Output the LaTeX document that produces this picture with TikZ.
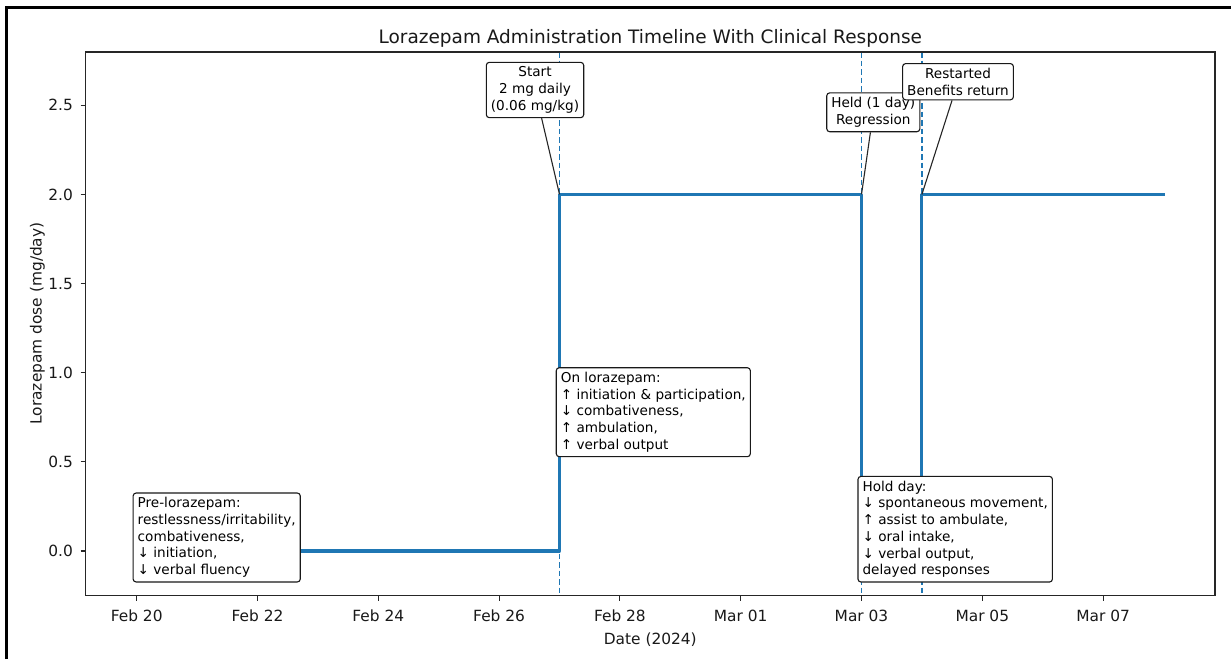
\documentclass[tikz,border=0pt]{standalone}
\usepackage{fontspec}
\setmainfont{DejaVu Sans}
\definecolor{mplblue}{HTML}{1F77B4}
\begin{document}
\begin{tikzpicture}[x=1pt,y=-1pt,
  ann/.style={draw=black!90, line width=1.1pt, fill=white, rounded corners=3pt,
    inner xsep=4.6pt, inner ysep=4.5pt, font=\fontsize{13.6}{16.7}\selectfont},
  spine/.style={draw=black!85, line width=1.1pt},
  ticklbl/.style={font=\fontsize{15.4}{18}\selectfont, text=black!90, inner sep=0pt},
  dose/.style={draw=mplblue, line width=3.1pt, line join=round, line cap=rect},
  vmark/.style={draw=mplblue, line width=1.7pt, dash pattern=on 5.5pt off 3pt},
  conn/.style={draw=black!85, line width=1.1pt},
  frameline/.style={draw=black, line width=2.2pt}]
\useasboundingbox (0,0) rectangle (1231,659);
\fill[white] (0,0) rectangle (1231,659);
% outer frame
\draw[frameline] (6.5,659) -- (6.5,7.5) -- (1231,7.5);

% data points
\coordinate (p0) at (136.7,551);
\coordinate (s0) at (559.5,551);
\coordinate (s2) at (559.5,194.4);
\coordinate (h2) at (861.5,194.4);
\coordinate (h0) at (861.5,551);
\coordinate (r0) at (921.9,551);
\coordinate (r2) at (921.9,194.4);
\coordinate (e2) at (1163.5,194.4);

% dashed event markers
\draw[vmark] (559.5,52) -- (559.5,595.7);
\draw[vmark] (861.5,52) -- (861.5,595.7);
\draw[vmark] (921.9,52) -- (921.9,595.7);

% step line
\draw[dose] (p0) -- (s0) -- (s2) -- (h2) -- (h0) -- (r0) -- (r2) -- (e2);

% axes
\draw[spine] (85.7,52) rectangle (1215,595.7);

% y ticks
\foreach \v/\yy in {0.0/551, 0.5/461.85, 1.0/372.7, 1.5/283.55, 2.0/194.4, 2.5/105.25}{
  \draw[spine] (80.5,\yy) -- (85.7,\yy);
  \node[ticklbl, anchor=east] at (73,\yy) {\v};
}
% x ticks
\foreach \lab/\xx in {Feb 20/136.7, Feb 22/257.5, Feb 24/378.3, Feb 26/499.1, Feb 28/619.9, Mar 01/740.7, Mar 03/861.5, Mar 05/982.3, Mar 07/1103.1}{
  \draw[spine] (\xx,595.7) -- (\xx,600.9);
  \node[ticklbl, anchor=base] at (\xx,621.5) {\lab};
}

% axis labels and title
\node[ticklbl, anchor=base] (xlab) at (650.3,644) {Date (2024)};
\node[ticklbl, anchor=base, rotate=90] (ylab) at (41.5,323.5) {Lorazepam dose (mg/day)};
\node[font=\fontsize{18.5}{22}\selectfont, text=black!90, anchor=base, inner sep=0pt] (title) at (650.3,43) {Lorazepam Administration Timeline With Clinical Response};

% annotations
\node[ann, align=center] (start) at (535,90) {Start\\2 mg daily\\(0.06 mg/kg)};
\draw[conn] (start) -- (s2);
\node[ann, align=center] (held) at (873.3,112.3) {Held (1 day)\\Regression};
\draw[conn] (held) -- (h2);
\node[ann, align=center] (restart) at (958,81.7) {Restarted\\Benefits return};
\draw[conn] (restart) -- (r2);

\node[ann, align=left] (pre) at (216.7,537.5) {Pre-lorazepam:\\restlessness/irritability,\\combativeness,\\↓ initiation,\\↓ verbal fluency};
\node[ann, align=left] (onlz) at (653.3,412.2) {On lorazepam:\\↑ initiation \& participation,\\↓ combativeness,\\↑ ambulation,\\↑ verbal output};
\node[ann, align=left] (hold) at (955.2,529.2) {Hold day:\\↓ spontaneous movement,\\↑ assist to ambulate,\\↓ oral intake,\\↓ verbal output,\\delayed responses};
\end{tikzpicture}
\end{document}
